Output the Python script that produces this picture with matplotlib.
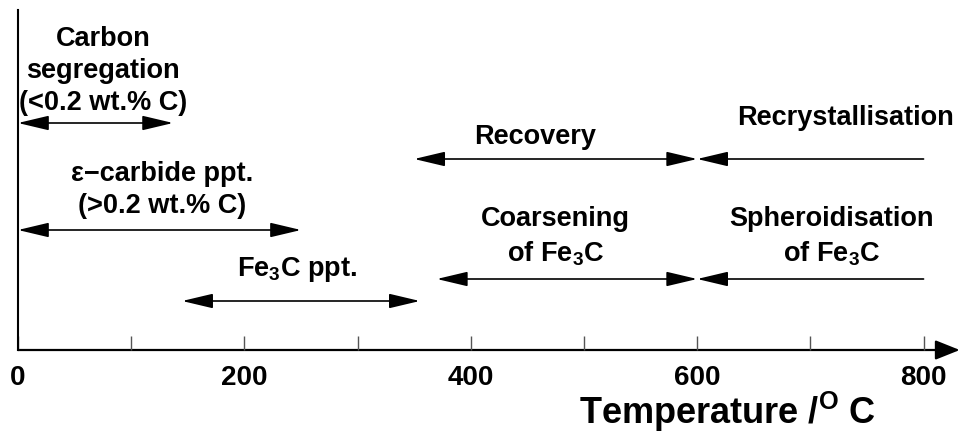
import matplotlib.pyplot as plt
from matplotlib.patches import FancyArrowPatch

plt.rcParams['font.family'] = ['Liberation Sans', 'DejaVu Sans']
plt.rcParams['font.weight'] = 'bold'
plt.rcParams['mathtext.fontset'] = 'custom'
plt.rcParams['mathtext.rm'] = 'Liberation Sans:bold'
plt.rcParams['mathtext.bf'] = 'Liberation Sans:bold'
plt.rcParams['mathtext.it'] = 'Liberation Sans:bold'

# temperature ranges of tempering processes (deg C)
t_start = [0, 0, 145, 350, 370, 600, 600]
t_end = [137, 250, 355, 600, 600, 800, 800]
row = [227, 120, 49, 191, 71, 191, 71]          # vertical level of each bar
heads = ['<|-|>', '<|-|>', '<|-|>', '<|-|>', '<|-|>', '<|-', '<|-']

labels = ['Carbon\nsegregation\n(<0.2 wt.% C)',
          '\u03b5\u2212carbide ppt.\n(>0.2 wt.% C)',
          r'Fe$_{3}$C ppt.',
          'Recovery',
          'Coarsening\n' + r'of Fe$_{3}$C',
          'Recrystallisation',
          'Spheroidisation\n' + r'of Fe$_{3}$C']
label_x = [75, 127, 247, 457, 475, 731, 719]
label_y = [279, 160, 80, 213, 113, 232, 113]

major_ticks = [0, 200, 400, 600, 800]
minor_ticks = [100, 300, 500, 700]

fig = plt.figure(figsize=(9.6, 4.34), dpi=100)
ax = fig.add_axes([0, 0, 1, 1])
ax.set_xlim(-15.9, 832.2)
ax.set_ylim(-84, 350)
for s in ax.spines.values():
    s.set_visible(False)
ax.spines['bottom'].set_position(('data', 0))
ax.set_yticks([])

ax.set_xticks(major_ticks)
ax.set_xticklabels([str(t) for t in major_ticks], fontsize=20, fontweight='bold')
ax.set_xticks(minor_ticks, minor=True)
ax.tick_params(axis='x', which='both', direction='in', length=10, width=1,
               color='#555555', pad=11)

# axes lines
ax.plot([0, 0], [0, 340], color='black', lw=1.5)
ax.add_patch(FancyArrowPatch((0, 0), (832, 0), arrowstyle='-|>,head_length=15,head_width=6',
                             mutation_scale=1, color='black', lw=1.6,
                             shrinkA=0, shrinkB=0))

for a, b, y, h in zip(t_start, t_end, row, heads):
    ax.add_patch(FancyArrowPatch((a, y), (b, y),
                                 arrowstyle=h + ',head_length=19,head_width=4.5',
                                 mutation_scale=1, color='black', lw=1.2,
                                 shrinkA=0, shrinkB=0))

for txt, x, y in zip(labels, label_x, label_y):
    ax.text(x, y, txt, ha='center', va='center', fontsize=19.5, fontweight='bold',
            linespacing=1.3, multialignment='center')

ax.text(627, -62, r'Temperature /$^{\mathrm{O}}$ C', ha='center', va='center',
        fontsize=26, fontweight='bold')

fig.savefig('out.png', dpi=100)
